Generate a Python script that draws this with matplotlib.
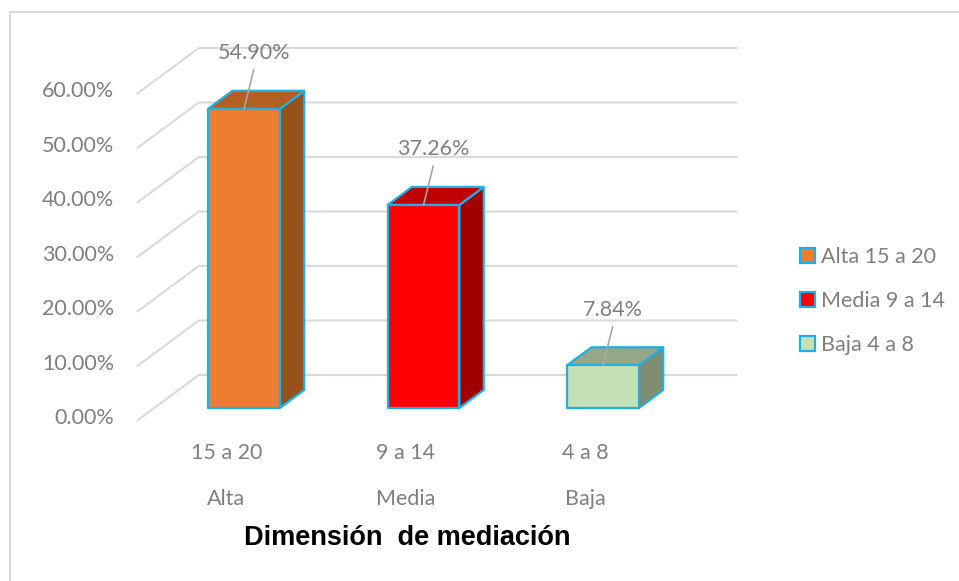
import matplotlib.pyplot as plt
from matplotlib.patches import Polygon, Rectangle

# Data
categories = ['15 a 20', '9 a 14', '4 a 8']
levels = ['Alta', 'Media', 'Baja']
legend_labels = ['Alta 15 a 20', 'Media 9 a 14', 'Baja 4 a 8']
values = [54.90, 37.26, 7.84]
yticks = [0, 10, 20, 30, 40, 50, 60]

# Face colours: front, top, side
front_colors = ['#ED7D31', '#FF0000', '#C5E0B4']
top_colors = ['#B35E23', '#C00000', '#94A886']
side_colors = ['#95501C', '#A00000', '#7F8C70']
edge_color = '#1CB0E6'
grid_color = '#D9D9D9'
text_gray = '#7F7F7F'

W, H = 959, 581
fig = plt.figure(figsize=(W / 100, H / 100), dpi=100)
ax = fig.add_axes([0, 0, 1, 1])
ax.set_axis_off()

# pixel scale of the bar plane: 179.5 px per category, 5.45 px per percent
px_x, px_y = 179.5, 5.45
x0_px, y0_px = 244, 408
ax.set_xlim(-x0_px / px_x, (W - x0_px) / px_x)
ax.set_ylim((y0_px - H) / px_y, y0_px / px_y)


def shift(x, y, d):
    """Oblique projection: move a point d pixels into the depth."""
    return x + 1.35 * d / px_x, y + d / px_y


D_FRONT, D_BACK, D_BAR = -13, 33, 18
wall_left, wall_right = -0.5, 2.5
bar_w = 0.40

# outer chart border
fig.patches.append(Rectangle((10 / W, -0.1), 2, 1 - 12 / H + 0.1,
                             transform=fig.transFigure, fill=False,
                             edgecolor='#D9D9D9', linewidth=1.5))

# gridlines on the back wall and the side wall
for t in yticks:
    a = shift(wall_left, t, D_FRONT)
    b = shift(wall_left, t, D_BACK)
    c = shift(wall_right, t, D_BACK)
    ax.plot([a[0], b[0], c[0]], [a[1], b[1], c[1]], color=grid_color,
            linewidth=1.5, solid_capstyle='butt', zorder=1)
    ax.annotate(f'{t:.2f}%', xy=a, xytext=(-16, 2), textcoords='offset points',
                ha='right', va='center', fontsize=15.5, color=text_gray,
                family='Lato')

# 3D columns
for i, v in enumerate(values):
    l, r = i - bar_w / 2, i + bar_w / 2
    front = [(l, 0), (r, 0), (r, v), (l, v)]
    top = [(l, v), (r, v), shift(r, v, D_BAR), shift(l, v, D_BAR)]
    side = [(r, 0), shift(r, 0, D_BAR), shift(r, v, D_BAR), (r, v)]
    for pts, col in ((side, side_colors[i]), (top, top_colors[i]),
                     (front, front_colors[i])):
        ax.add_patch(Polygon(pts, closed=True, facecolor=col,
                             edgecolor=edge_color, linewidth=1.6,
                             joinstyle='round', zorder=3))

    # value label with leader line
    ax.annotate(f'{v:.2f}%', xy=(i, v), xytext=(7, 40),
                textcoords='offset points', ha='center', va='center',
                fontsize=15.5, color=text_gray, family='Lato', zorder=5)
    ax.annotate('', xy=(i, v), xytext=(7, 28), textcoords='offset points',
                arrowprops=dict(arrowstyle='-', color='#A6A6A6', lw=1.2,
                                shrinkA=0, shrinkB=0), zorder=5)

    # category labels under the floor
    base = shift(i, 0, D_FRONT)
    ax.annotate(categories[i], xy=base, xytext=(0, -23),
                textcoords='offset points', ha='center', va='center',
                fontsize=15.5, color=text_gray, family='Lato')
    ax.annotate(levels[i], xy=base, xytext=(0, -56),
                textcoords='offset points', ha='center', va='center',
                fontsize=15.5, color=text_gray, family='Lato')

fig.text(407 / W, 1 - 538 / H, 'Dimensión  de mediación', ha='center',
         va='center', fontsize=19.5, fontweight='bold', color='black',
         family='Liberation Sans')

# legend
handles = [Rectangle((0, 0), 1, 1, facecolor=c, edgecolor=edge_color,
                     linewidth=1.6) for c in front_colors]
fig.legend(handles, legend_labels, loc='center left',
           bbox_to_anchor=(781 / W, 1 - 301 / H), frameon=False,
           prop={'family': 'Lato', 'size': 15.5}, labelcolor=text_gray,
           handlelength=0.7, handleheight=0.7, handletextpad=0.25,
           labelspacing=1.1)

fig.savefig('out.png', dpi=100)
